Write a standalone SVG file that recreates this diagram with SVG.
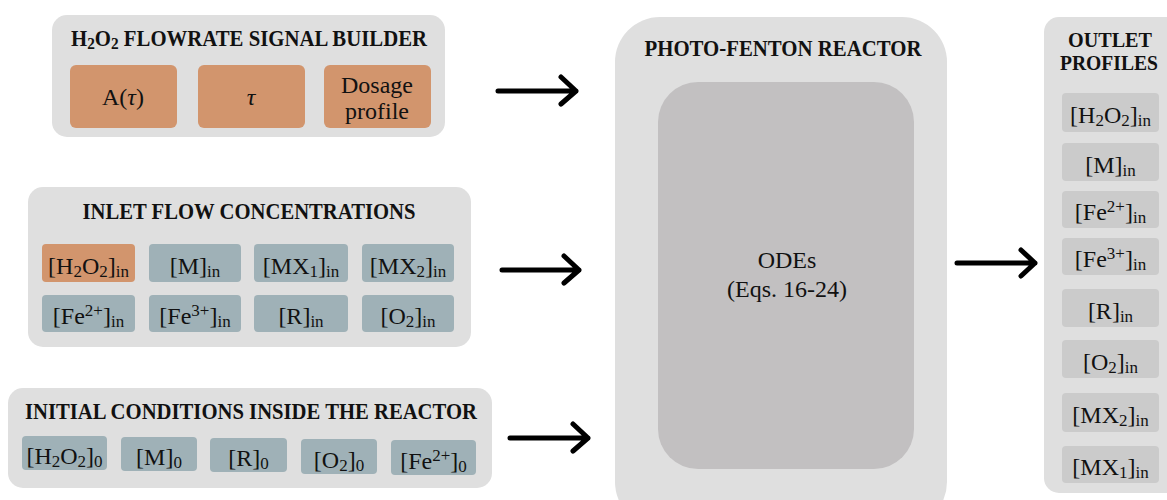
<svg xmlns="http://www.w3.org/2000/svg" width="1167" height="500" viewBox="0 0 1167 500">
<defs>
<style>
.panel{fill:#dfdfdf}
.org{fill:#d2956d}
.blu{fill:#9fb1b7}
.gry{fill:#cbcbcb}
.inner{fill:#c2c0c1}
text{font-family:"Liberation Serif","Times New Roman",serif;fill:#111}
.ttl{font-weight:bold;font-size:23px;text-anchor:middle}
.ttl2{font-weight:bold;font-size:20px;text-anchor:middle}
.lbl{font-size:24px;text-anchor:middle}
.sub{font-size:17px;baseline-shift:-3px}
.sup{font-size:17px;baseline-shift:8px}
.arr{fill:none;stroke:#000;stroke-width:5;stroke-linecap:round;stroke-linejoin:round}
</style>
</defs>
<rect width="1167" height="500" fill="#ffffff"/>

<g id="signal-builder">
<rect class="panel" x="52" y="15" width="393" height="122" rx="15"/>
<text class="ttl" x="249" y="46" textLength="356" lengthAdjust="spacingAndGlyphs">H<tspan class="sub">2</tspan>O<tspan class="sub">2</tspan> FLOWRATE SIGNAL BUILDER</text>
<g id="amp"><rect class="org" x="70" y="65" width="107" height="63" rx="6"/><text class="lbl" x="123" y="105">A(<tspan font-style="italic">τ</tspan>)</text></g>
<g id="tau"><rect class="org" x="198" y="65" width="107" height="63" rx="6"/><text class="lbl" x="251" y="105" font-style="italic">τ</text></g>
<g id="dosage"><rect class="org" x="324" y="65" width="107" height="63" rx="6"/><text class="lbl" x="377" y="93">Dosage</text><text class="lbl" x="377" y="119">profile</text></g>
</g>

<g id="inlet">
<rect class="panel" x="28" y="187" width="443" height="160" rx="15"/>
<text class="ttl" x="249" y="219" textLength="333" lengthAdjust="spacingAndGlyphs">INLET FLOW CONCENTRATIONS</text>
<g id="in-h2o2"><rect class="org" x="42" y="244" width="93" height="38" rx="4"/><text class="lbl" x="88.5" y="274">[H<tspan class="sub">2</tspan>O<tspan class="sub">2</tspan>]<tspan class="sub">in</tspan></text></g>
<g id="in-m"><rect class="blu" x="149" y="244" width="92" height="38" rx="4"/><text class="lbl" x="195" y="274">[M]<tspan class="sub">in</tspan></text></g>
<g id="in-mx1"><rect class="blu" x="254" y="244" width="94" height="38" rx="4"/><text class="lbl" x="301" y="274">[MX<tspan class="sub">1</tspan>]<tspan class="sub">in</tspan></text></g>
<g id="in-mx2"><rect class="blu" x="362" y="244" width="92" height="38" rx="4"/><text class="lbl" x="408" y="274">[MX<tspan class="sub">2</tspan>]<tspan class="sub">in</tspan></text></g>
<g id="in-fe2"><rect class="blu" x="42" y="295" width="93" height="37" rx="4"/><text class="lbl" x="88.5" y="324">[Fe<tspan class="sup">2+</tspan>]<tspan class="sub">in</tspan></text></g>
<g id="in-fe3"><rect class="blu" x="149" y="295" width="92" height="37" rx="4"/><text class="lbl" x="195" y="324">[Fe<tspan class="sup">3+</tspan>]<tspan class="sub">in</tspan></text></g>
<g id="in-r"><rect class="blu" x="254" y="295" width="94" height="37" rx="4"/><text class="lbl" x="301" y="324">[R]<tspan class="sub">in</tspan></text></g>
<g id="in-o2"><rect class="blu" x="362" y="295" width="92" height="37" rx="4"/><text class="lbl" x="408" y="324">[O<tspan class="sub">2</tspan>]<tspan class="sub">in</tspan></text></g>
</g>

<g id="initial">
<rect class="panel" x="8" y="388" width="484" height="100" rx="15"/>
<text class="ttl" x="251" y="419" textLength="452" lengthAdjust="spacingAndGlyphs">INITIAL CONDITIONS INSIDE THE REACTOR</text>
<g id="ic-h2o2"><rect class="blu" x="22" y="436" width="85" height="34" rx="4"/><text class="lbl" x="64.5" y="464">[H<tspan class="sub">2</tspan>O<tspan class="sub">2</tspan>]<tspan class="sub">0</tspan></text></g>
<g id="ic-m"><rect class="blu" x="121" y="437" width="76" height="34" rx="4"/><text class="lbl" x="159" y="465">[M]<tspan class="sub">0</tspan></text></g>
<g id="ic-r"><rect class="blu" x="210" y="438" width="77" height="34" rx="4"/><text class="lbl" x="248.5" y="466">[R]<tspan class="sub">0</tspan></text></g>
<g id="ic-o2"><rect class="blu" x="301" y="439" width="76" height="35" rx="4"/><text class="lbl" x="339" y="468">[O<tspan class="sub">2</tspan>]<tspan class="sub">0</tspan></text></g>
<g id="ic-fe2"><rect class="blu" x="391" y="440" width="85" height="35" rx="4"/><text class="lbl" x="433.5" y="469">[Fe<tspan class="sup">2+</tspan>]<tspan class="sub">0</tspan></text></g>
</g>

<g id="reactor">
<rect class="panel" x="615" y="17" width="332" height="510" rx="45"/>
<text class="ttl" x="783" y="56" textLength="277" lengthAdjust="spacingAndGlyphs">PHOTO-FENTON REACTOR</text>
<g id="odes"><rect class="inner" x="658" y="82" width="256" height="387" rx="40"/><text class="lbl" x="787" y="268">ODEs</text><text class="lbl" x="787" y="297">(Eqs. 16-24)</text></g>
</g>

<g id="outlet">
<rect class="panel" x="1044" y="17" width="140" height="476" rx="15"/>
<text class="ttl2" x="1110" y="47" textLength="84" lengthAdjust="spacingAndGlyphs">OUTLET</text>
<text class="ttl2" x="1109" y="70" textLength="98" lengthAdjust="spacingAndGlyphs">PROFILES</text>
<g id="out-h2o2"><rect class="gry" x="1062" y="93" width="97" height="39" rx="4"/><text class="lbl" x="1110.5" y="123">[H<tspan class="sub">2</tspan>O<tspan class="sub">2</tspan>]<tspan class="sub">in</tspan></text></g>
<g id="out-m"><rect class="gry" x="1062" y="143" width="97" height="38" rx="4"/><text class="lbl" x="1110.5" y="173">[M]<tspan class="sub">in</tspan></text></g>
<g id="out-fe2"><rect class="gry" x="1062" y="191" width="97" height="37" rx="4"/><text class="lbl" x="1110.5" y="220">[Fe<tspan class="sup">2+</tspan>]<tspan class="sub">in</tspan></text></g>
<g id="out-fe3"><rect class="gry" x="1062" y="238" width="97" height="37" rx="4"/><text class="lbl" x="1110.5" y="267">[Fe<tspan class="sup">3+</tspan>]<tspan class="sub">in</tspan></text></g>
<g id="out-r"><rect class="gry" x="1062" y="289" width="97" height="38" rx="4"/><text class="lbl" x="1110.5" y="319">[R]<tspan class="sub">in</tspan></text></g>
<g id="out-o2"><rect class="gry" x="1062" y="340" width="97" height="38" rx="4"/><text class="lbl" x="1110.5" y="370">[O<tspan class="sub">2</tspan>]<tspan class="sub">in</tspan></text></g>
<g id="out-mx2"><rect class="gry" x="1062" y="393" width="97" height="39" rx="4"/><text class="lbl" x="1110.5" y="423">[MX<tspan class="sub">2</tspan>]<tspan class="sub">in</tspan></text></g>
<g id="out-mx1"><rect class="gry" x="1062" y="446" width="97" height="37" rx="4"/><text class="lbl" x="1110.5" y="475">[MX<tspan class="sub">1</tspan>]<tspan class="sub">in</tspan></text></g>
</g>

<g id="connectors">
<path class="arr" d="M498 91 H576 M561 77 L576 91 L561 104"/>
<path class="arr" d="M502 270 H579 M564 256 L579 270 L564 283"/>
<path class="arr" d="M510 438 H588 M573 424 L588 438 L573 451"/>
<path class="arr" d="M957 263 H1035 M1021 250 L1035 263 L1021 276"/>
</g>
</svg>
